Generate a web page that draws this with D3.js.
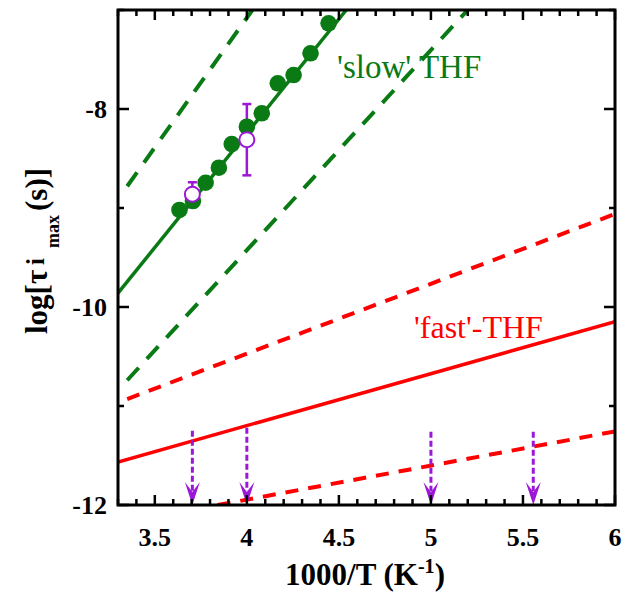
<!DOCTYPE html>
<html><head><meta charset="utf-8">
<script src="https://cdn.jsdelivr.net/npm/d3@7"></script>
<style>body{margin:0;background:#fff}svg{display:block}</style>
</head><body><svg id="c" width="641" height="592"></svg>
<script>
// ---- data ----
const slowX = [3.634, 3.707, 3.776, 3.848, 3.918, 4.0, 4.081, 4.168, 4.254, 4.346, 4.444];
const slowY = [-9.02, -8.93, -8.745, -8.593, -8.354, -8.179, -8.043, -7.74, -7.657, -7.437, -7.134];
const openX = [3.704, 4.0];
const openY = [-8.86, -8.31];
const openLo = [-8.99, -8.67];
const openHi = [-8.74, -7.95];
const slowFitX = [3.3, 4.54], slowFitY = [-9.86, -7.0];
const slowUpX = [3.35, 4.03], slowUpY = [-8.78, -7.0];
const slowLoX = [3.35, 5.20], slowLoY = [-10.74, -7.0];
const fastFitX = [3.3, 6.0], fastFitY = [-11.566, -10.148];
const fastUpX = [3.35, 6.0], fastUpY = [-10.93, -9.06];
const fastLoX = [3.35, 6.0], fastLoY = [-12.17, -11.257];
const arrowX = [3.704, 4.0, 5.0, 5.556];
const arrowTop = [-11.25, -11.22, -11.26, -11.26];
const arrowBottom = -12;
const xTickLabels = [3.5, 4, 4.5, 5, 5.5, 6];
const yTickLabels = [-12, -10, -8];
const slowLabel = "'slow' THF", fastLabel = "'fast'-THF";

// ---- layout ----
const L = 118, R = 615, T = 10, B = 505;
const GREEN = "#0a7a14", RED = "#ff0000", PURPLE = "#9b19d6";
const x = d3.scaleLinear().domain([3.3, 6]).range([L, R]);
const y = d3.scaleLinear().domain([-12, -7]).range([B, T]);
const svg = d3.select("#c");
svg.append("defs").append("clipPath").attr("id", "clip")
  .append("rect").attr("x", L).attr("y", T).attr("width", R - L).attr("height", B - T);
const plot = svg.append("g").attr("clip-path", "url(#clip)");
const line = d3.line().x(d => x(d[0])).y(d => y(d[1]));
function seg(xs, ys, color, w, dash) {
  const p = plot.append("path").datum(xs.map((v, i) => [v, ys[i]]))
    .attr("d", line).attr("fill", "none").attr("stroke", color).attr("stroke-width", w);
  if (dash) p.attr("stroke-dasharray", dash);
}
seg(slowUpX, slowUpY, GREEN, 4, "17,12");
seg(slowLoX, slowLoY, GREEN, 4, "17,12");
seg(fastUpX, fastUpY, RED, 4, "13,10");
seg(fastLoX, fastLoY, RED, 4, "13,10");
seg(slowFitX, slowFitY, GREEN, 3.5);
seg(fastFitX, fastFitY, RED, 3.5);

// error bars
openX.forEach((v, i) => {
  const g = plot.append("g").attr("stroke", PURPLE).attr("stroke-width", 2.5);
  g.append("line").attr("x1", x(v)).attr("x2", x(v)).attr("y1", y(openLo[i])).attr("y2", y(openHi[i]));
  [openLo[i], openHi[i]].forEach(e => g.append("line").attr("x1", x(v) - 4.5).attr("x2", x(v) + 4.5).attr("y1", y(e)).attr("y2", y(e)));
});
// green points
plot.selectAll("circle.slow").data(slowX).join("circle").attr("class", "slow")
  .attr("cx", d => x(d)).attr("cy", (d, i) => y(slowY[i])).attr("r", 8.3).attr("fill", GREEN);
// open circles
plot.selectAll("circle.open").data(openX).join("circle").attr("class", "open")
  .attr("cx", d => x(d)).attr("cy", (d, i) => y(openY[i])).attr("r", 7.5)
  .attr("fill", "#fff").attr("stroke", PURPLE).attr("stroke-width", 2);
// arrows
arrowX.forEach((v, i) => {
  const xt = x(v), yb = y(arrowBottom);
  plot.append("line").attr("x1", xt).attr("x2", xt).attr("y1", y(arrowTop[i])).attr("y2", yb - 14)
    .attr("stroke", PURPLE).attr("stroke-width", 3).attr("stroke-dasharray", "6,3");
  plot.append("path").attr("d", `M${xt},${yb} L${xt - 7.5},${yb - 23} L${xt},${yb - 13} L${xt + 7.5},${yb - 23} Z`)
    .attr("fill", PURPLE);
});

// labels in plot
svg.append("text").attr("x", 337).attr("y", 78).attr("font-family", "Liberation Serif, Times New Roman, serif")
  .attr("font-size", 33).attr("fill", GREEN).text(slowLabel);
svg.append("text").attr("x", 414).attr("y", 338).attr("font-family", "Liberation Serif, Times New Roman, serif")
  .attr("font-size", 32).attr("fill", RED).text(fastLabel);

// ---- axes ----
const ax = svg.append("g").attr("stroke", "#000");
const xt = d3.range(33, 61).map(d => d / 10);
xt.forEach(v => {
  const major = Math.abs(v * 2 - Math.round(v * 2)) < 1e-6;
  const len = major ? 10 : 6;
  ax.append("line").attr("x1", x(v)).attr("x2", x(v)).attr("y1", B).attr("y2", B - len).attr("stroke-width", 2.5);
  ax.append("line").attr("x1", x(v)).attr("x2", x(v)).attr("y1", T).attr("y2", T + len).attr("stroke-width", 2.5);
});
d3.range(-12, -6).forEach(v => {
  const major = v % 2 === 0;
  const len = major ? 11 : 6;
  ax.append("line").attr("x1", L).attr("x2", L + len).attr("y1", y(v)).attr("y2", y(v)).attr("stroke-width", 2.5);
  ax.append("line").attr("x1", R).attr("x2", R - len).attr("y1", y(v)).attr("y2", y(v)).attr("stroke-width", 2.5);
});
ax.append("rect").attr("x", L).attr("y", T).attr("width", R - L).attr("height", B - T)
  .attr("fill", "none").attr("stroke-width", 3);

const tf = "Liberation Serif, Times New Roman, serif";
svg.selectAll("text.xl").data(xTickLabels).join("text").attr("class", "xl")
  .attr("x", d => x(d)).attr("y", 546).attr("text-anchor", "middle")
  .attr("font-family", tf).attr("font-weight", "bold").attr("font-size", 26).text(d => d);
svg.selectAll("text.yl").data(yTickLabels).join("text").attr("class", "yl")
  .attr("x", 107).attr("y", d => y(d) + 9).attr("text-anchor", "end")
  .attr("font-family", tf).attr("font-weight", "bold").attr("font-size", 26).text(d => d);

// x title
const xtitle = svg.append("text").attr("x", 365).attr("y", 585).attr("text-anchor", "middle")
  .attr("font-family", tf).attr("font-weight", "bold").attr("font-size", 31);
xtitle.append("tspan").text("1000/T (K");
xtitle.append("tspan").attr("font-size", 20).attr("dy", -12).text("-1");
xtitle.append("tspan").attr("dy", 12).text(")");

// y title
const yg = svg.append("g").attr("transform", "translate(47,334) rotate(-90)")
  .attr("font-family", tf).attr("font-weight", "bold");
yg.append("text").attr("x", 0).attr("y", 0).attr("font-size", 31).text("log[τ");
yg.append("text").attr("x", 69).attr("y", -3).attr("font-size", 25).text("i");
yg.append("text").attr("x", 86).attr("y", 12).attr("font-size", 18).text("max");
yg.append("text").attr("x", 123).attr("y", 0).attr("font-size", 31).text("(s)]");
</script></body></html>
